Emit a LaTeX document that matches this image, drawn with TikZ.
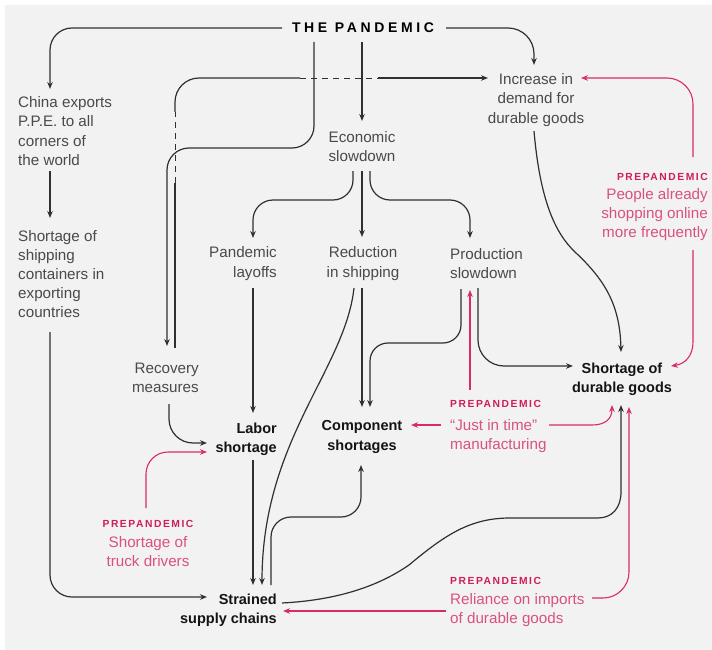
\documentclass[tikz,border=0pt]{standalone}
\usepackage{fontspec}
\setmainfont{Liberation Sans}
\newfontfamily\trackfont[LetterSpace=26]{Liberation Sans}
\newfontfamily\preffont[LetterSpace=15]{Liberation Sans}
\usetikzlibrary{arrows.meta}
\definecolor{bggray}{HTML}{F2F2F2}
\definecolor{inkline}{HTML}{303030}
\definecolor{inktext}{HTML}{4A4A4A}
\definecolor{inkbold}{HTML}{141414}
\definecolor{redline}{HTML}{D92C62}
\definecolor{redtext}{HTML}{D9527F}
\definecolor{redhead}{HTML}{CE1F56}
\newcommand{\prehead}{{\preffont\bfseries\fontsize{10.3}{19}\selectfont\color{redhead}PREPANDEMIC}}
\tikzset{
  lbl/.style={inner sep=0pt,font=\fontsize{15.2}{19.2}\selectfont,text=inktext},
  boldlbl/.style={lbl,font=\bfseries\fontsize{14.5}{19.2}\selectfont,text=inkbold},
  prelbl/.style={lbl,text=redtext},
  conn/.style={draw=inkline,line width=1.2pt},
  redconn/.style={draw=redline,line width=1.1pt},
  tip/.style={-{Stealth[length=7pt,width=5.5pt]}},
  gapped/.style={dash pattern=on 6pt off 5pt,line width=0.9pt},
  curved/.style={rounded corners=#1},
}
\begin{document}
\begin{tikzpicture}[x=1pt,y=-1pt]
\useasboundingbox (0,0) rectangle (712,650);
\fill[white] (0,0) rectangle (712,650);
\fill[bggray] (5,5) rectangle (712,650);
% nodes
\node[inner sep=0pt,text=black,font=\trackfont\bfseries\fontsize{14}{17}\selectfont] (pandemic) at (363,28) {THE PANDEMIC};
\node[lbl,anchor=west,align=left] (china) at (18,131) {China exports\\P.P.E. to all\\corners of\\the world};
\node[lbl,anchor=west,align=left] (ship) at (18,274) {Shortage of\\shipping\\containers in\\exporting\\countries};
\node[lbl,align=center] (increase) at (536,100) {Increase in\\demand for\\durable goods};
\node[lbl,align=center] (econ) at (362,146.5) {Economic\\slowdown};
\node[lbl,anchor=east,align=right] (layoffs) at (277,263.5) {Pandemic\\layoffs};
\node[lbl,align=center] (reduction) at (363,263.5) {Reduction\\in shipping};
\node[lbl,anchor=west,align=left] (production) at (450,263.5) {Production\\slowdown};
\node[lbl,anchor=east,align=right] (recovery) at (199,377.5) {Recovery\\measures};
\node[boldlbl,anchor=east,align=right] (labor) at (277,439) {Labor\\shortage};
\node[boldlbl,align=center] (component) at (362,437) {Component\\shortages};
\node[boldlbl,align=center] (durable) at (622,379.5) {Shortage of\\durable goods};
\node[boldlbl,anchor=east,align=right] (strained) at (277,610.5) {Strained\\supply chains};
\node[prelbl,anchor=east,align=right] (pre1) at (708,207) {\prehead\\People already\\shopping online\\more frequently};
\node[prelbl,anchor=west,align=left] (pre2) at (450,426.5) {\prehead\\[4pt]``Just in time''\\manufacturing};
\node[prelbl,align=center] (pre3) at (148,543.5) {\prehead\\Shortage of\\truck drivers};
\node[prelbl,anchor=west,align=left] (pre4) at (450,602) {\prehead\\Reliance on imports\\of durable goods};
% break points of the interrupted connector
\coordinate (gapA) at (175,183);
\coordinate (gapB) at (175,112);
\coordinate (gapC) at (300,78);
\coordinate (gapD) at (378,78);
% black connectors
\draw[conn,tip,curved=22pt] ([shift={(-81,0)}]pandemic.center) -- (50,28) -- ([shift={(32,-42)}]china.west);
\draw[conn,tip] ([shift={(32,40)}]china.west) -- ([shift={(32,-56)}]ship.west);
\draw[conn,tip,curved=22pt] ([shift={(32,58)}]ship.west) -- (50,597) -- ([shift={(-70,-13.5)}]strained.east);
\draw[conn,tip,curved=22pt] ([shift={(-49,14)}]pandemic.center) -- (314,148) -- (167,148) -- ([shift={(-32,-31.5)}]recovery.east);
\draw[conn] ([shift={(-24,-29.5)}]recovery.east) -- (gapA);
\draw[conn,gapped] (gapA) -- (gapB);
\draw[conn,curved=24pt] (gapB) -- (175,78) -- (gapC);
\draw[conn,gapped] (gapC) -- (gapD);
\draw[conn,tip] (gapD) -- ([shift={(-48,-22)}]increase.center);
\draw[conn,tip] ([shift={(-1,14)}]pandemic.center) -- ([shift={(0,-25.5)}]econ.center);
\draw[conn,tip,curved=26pt] ([shift={(83,0)}]pandemic.center) -- (534,28) -- ([shift={(-2,-35)}]increase.center);
\draw[conn,tip,curved=20pt] ([shift={(-9,24.5)}]econ.center) -- (353,200) -- (253,200) -- ([shift={(-24,-25.5)}]layoffs.east);
\draw[conn,tip] ([shift={(0,24.5)}]econ.center) -- ([shift={(-1,-26.5)}]reduction.center);
\draw[conn,tip,curved=20pt] ([shift={(8,24.5)}]econ.center) -- (370,200) -- (470,200) -- ([shift={(20,-25.5)}]production.west);
\draw[conn,tip] ([shift={(-24,24.5)}]layoffs.east) -- ([shift={(-24,-26)}]labor.east);
\draw[conn,tip] ([shift={(-9,24.5)}]reduction.center) .. controls (345,370) and (262,440) .. ([shift={(-15,-25.5)}]strained.east);
\draw[conn,tip] ([shift={(-24,21)}]labor.east) -- ([shift={(-24,-25.5)}]strained.east);
\draw[conn,tip,curved=20pt] ([shift={(-6,-25.5)}]strained.east) -- (271,517) -- (361,517) -- ([shift={(-1,28)}]component.center);
\draw[conn,tip] ([shift={(5,-7.5)}]strained.east) .. controls (340,600) and (380,585) .. (409,565) .. controls (445,535) and (470,518) .. (510,518) -- (598,518) .. controls (612,518) and (621,508) .. (621,492) -- ([shift={(-1,25.5)}]durable.center);
\draw[conn,tip,curved=18pt] ([shift={(11,25.5)}]production.west) -- (461,343) -- (370,343) -- ([shift={(8,-30)}]component.center);
\draw[conn,tip] ([shift={(-1,24.5)}]reduction.center) -- ([shift={(0,-30)}]component.center);
\draw[conn,tip,curved=26pt] ([shift={(28,24.5)}]production.west) -- (478,366) -- ([shift={(-49,-13.5)}]durable.center);
\draw[conn,tip] ([shift={(-2,31)}]increase.center) .. controls (540,200) and (555,233) .. (575,252) .. controls (605,280) and (620,305) .. ([shift={(-1,-27.5)}]durable.center);
\draw[conn,tip,curved=24pt] ([shift={(-30,26.5)}]recovery.east) -- (169,443) -- ([shift={(-70,4)}]labor.east);
% red connectors
\draw[redconn,tip,curved=26pt] ([shift={(-15,-50)}]pre1.east) -- (693,78) -- ([shift={(45,-22)}]increase.center);
\draw[redconn,tip] ([shift={(-15,43)}]pre1.east) -- (693,342) .. controls (693,356) and (685,364) .. ([shift={(49,-13.5)}]durable.center);
\draw[redconn,tip] ([shift={(20,-36.5)}]pre2.west) -- ([shift={(20,26.5)}]production.west);
\draw[redconn,tip] ([shift={(-9,-1.5)}]pre2.west) -- ([shift={(49,-12)}]component.center);
\draw[redconn,tip] ([shift={(99,-1.5)}]pre2.west) -- (592,425) .. controls (605,425) and (612,419) .. ([shift={(-10,25.5)}]durable.center);
\draw[redconn,tip,curved=22pt] ([shift={(-2,-35.5)}]pre3.center) -- (146,452) -- ([shift={(-70,13)}]labor.east);
\draw[redconn,tip,curved=26pt] ([shift={(142,-4)}]pre4.west) -- (629,598) -- ([shift={(7,27.5)}]durable.center);
\draw[redconn,tip] ([shift={(-4,9)}]pre4.west) -- ([shift={(6,0.5)}]strained.east);
\end{tikzpicture}
\end{document}
